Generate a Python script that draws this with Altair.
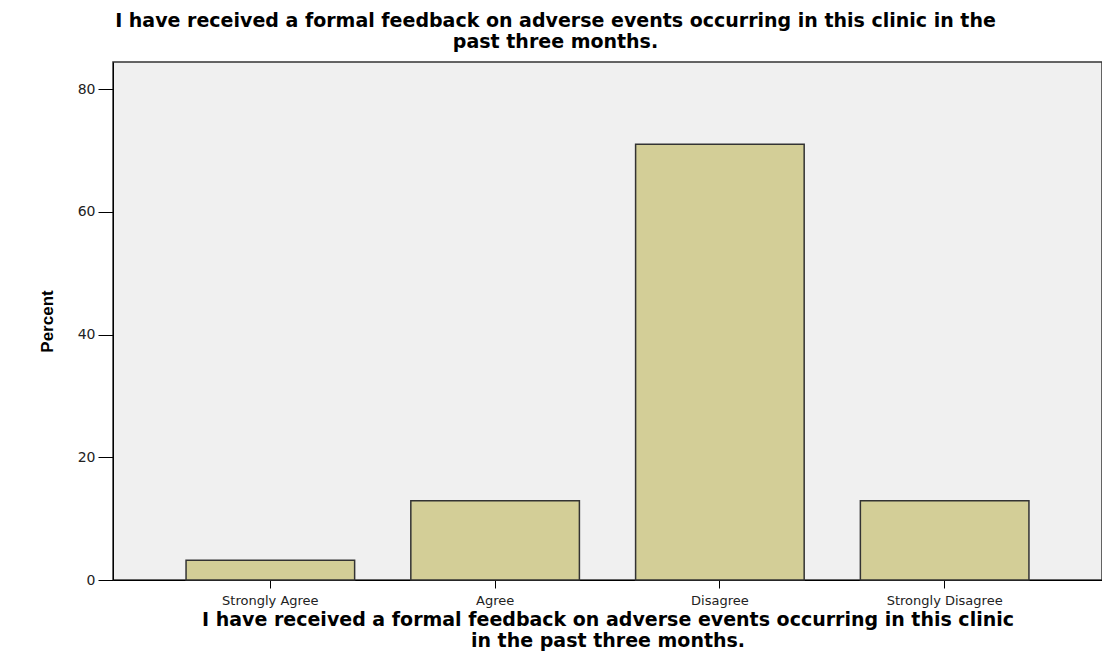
import altair as alt
import pandas as pd

categories = ["Strongly Agree", "Agree", "Disagree", "Strongly Disagree"]
percents = [3.2, 12.9, 71.0, 12.9]

df = pd.DataFrame({"category": categories, "percent": percents})

title_lines = ["I have received a formal feedback on adverse events occurring in this clinic in the",
               "past three months."]
xtitle_lines = ["I have received a formal feedback on adverse events occurring in this clinic",
                "in the past three months."]

chart = alt.Chart(df).mark_bar(
    color="#D3CE97", stroke="#333333", strokeWidth=1.5
).encode(
    x=alt.X("category:N", sort=categories,
            scale=alt.Scale(paddingInner=0.25, paddingOuter=0.325),
            axis=alt.Axis(title=xtitle_lines, labelAngle=0, labelFont="DejaVu Sans",
                          labelFontSize=13, labelColor="#222222", tickSize=8,
                          tickColor="#000000", domainColor="#000000", labelPadding=6,
                          titleFont="DejaVu Sans", titleFontSize=19, titleFontWeight="bold",
                          titleColor="#000000", titlePadding=3, titleLineHeight=21,
                          grid=False)),
    y=alt.Y("percent:Q", scale=alt.Scale(domain=[0, 84.4], nice=False),
            axis=alt.Axis(title="Percent", values=[0, 20, 40, 60, 80], labelFont="DejaVu Sans",
                          labelFontSize=14, labelColor="#222222", tickSize=15,
                          tickColor="#000000", domainColor="#000000", labelPadding=3,
                          titleFont="Liberation Sans", titleFontSize=17, titleFontWeight="bold",
                          titleColor="#000000", titlePadding=21, grid=False)),
).properties(
    width=989, height=518,
    autosize=alt.AutoSizeParams(type="none"),
    padding={"left": 105, "top": 54, "right": 0, "bottom": 74},
    title=alt.TitleParams(text=title_lines, font="DejaVu Sans", fontSize=19,
                          fontWeight="bold", color="#000000", lineHeight=21,
                          anchor="middle", dx=-52, offset=10),
).configure_view(
    fill="#F0F0F0", stroke="#333333", strokeWidth=1.5
)

chart.save("out.html", embed_options={"renderer": "svg", "actions": False})
